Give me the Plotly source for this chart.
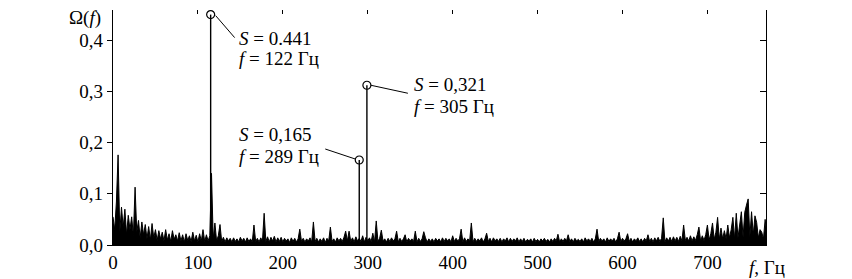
import plotly.graph_objects as go

# ---------------- data ----------------
# background spectrum, sampled every 2 Hz from 0 to 770 Hz (values in units of 0.001)
noise_step_hz = 2
noise_milli = [
    55, 30, 84, 176, 25, 74, 35, 70, 20, 58,      # 0-18
    30, 55, 18, 113, 25, 48, 14, 45, 20, 40,      # 20-38
    12, 36, 10, 42, 14, 30, 9, 28, 12, 25,        # 40-58
    8, 30, 10, 22, 7, 28, 11, 20, 8, 24,          # 60-78
    8, 20, 6, 22, 9, 18, 7, 25, 8, 19,            # 80-98
    6, 22, 8, 30, 7, 20, 8, 18, 140, 12,          # 100-118
    43, 8, 18, 40, 7, 15, 6, 14, 8, 13,           # 120-138
    6, 14, 7, 12, 6, 15, 8, 13, 6, 14,            # 140-158
    7, 12, 6, 39, 7, 13, 6, 14, 8, 62,            # 160-178
    7, 16, 6, 15, 8, 17, 6, 14, 7, 15,            # 180-198
    6, 13, 8, 12, 5, 14, 7, 13, 6, 12,            # 200-218
    31, 7, 13, 6, 12, 8, 14, 6, 45, 7,            # 220-238
    13, 6, 12, 7, 14, 5, 13, 8, 35, 7,            # 240-258
    12, 6, 14, 8, 13, 7, 15, 27, 8, 27,           # 260-278
    7, 14, 6, 16, 8, 13, 7, 18, 6, 15,            # 280-298
    8, 14, 7, 23, 6, 47, 7, 13, 29, 8,            # 300-318
    12, 6, 13, 7, 14, 8, 12, 27, 6, 13,           # 320-338
    7, 12, 20, 6, 13, 8, 12, 7, 27, 6,            # 340-358
    13, 7, 12, 26, 14, 6, 12, 7, 12, 6,           # 360-378
    13, 8, 12, 6, 14, 7, 13, 8, 12, 6,            # 380-398
    18, 7, 13, 8, 12, 31, 6, 14, 7, 12,           # 400-418
    8, 43, 6, 13, 7, 12, 8, 14, 6, 12,            # 420-438
    23, 7, 13, 6, 14, 8, 12, 7, 13, 6,            # 440-458
    12, 8, 14, 6, 13, 7, 12, 8, 14, 6,            # 460-478
    12, 7, 13, 6, 11, 8, 12, 6, 13, 7,            # 480-498
    11, 6, 12, 8, 13, 7, 11, 6, 12, 7,            # 500-518
    13, 8, 21, 6, 12, 7, 13, 8, 20, 7,            # 520-538
    12, 6, 13, 8, 11, 7, 12, 6, 14, 8,            # 540-558
    12, 7, 13, 6, 12, 31, 7, 13, 8, 12,           # 560-578
    6, 14, 7, 12, 8, 13, 6, 12, 25, 7,            # 580-598
    13, 8, 12, 22, 7, 13, 6, 12, 8, 14,           # 600-618
    7, 12, 6, 13, 8, 20, 7, 13, 6, 14,            # 620-638
    8, 15, 7, 13, 53, 6, 14, 8, 15, 7,            # 640-658
    16, 8, 15, 7, 17, 8, 39, 9, 15, 8,            # 660-678
    18, 8, 16, 9, 20, 35, 8, 18, 9, 20,           # 680-698
    39, 10, 22, 43, 11, 25, 54, 11, 33, 12,       # 700-718
    28, 12, 39, 14, 30, 54, 12, 62, 14, 35,       # 720-738
    65, 15, 64, 78, 90, 16, 65, 20, 57, 44,       # 740-758
    14, 30, 25, 12, 50, 20,                       # 760-770
]
noise_freq = [i * noise_step_hz for i in range(len(noise_milli))]
noise_vals = [v / 1000 for v in noise_milli]

# marked peaks (frequency, amplitude as drawn) and their labels
peak_f = [115, 299, 290]
peak_S = [0.450, 0.312, 0.166]
peak_S_text = ["0.441", "0,321", "0,165"]
peak_f_text = ["122", "305", "289"]

x_ticks = [0, 100, 200, 300, 400, 500, 600, 700]
y_ticks = [0.0, 0.1, 0.2, 0.3, 0.4]
x_range = [0, 769]
y_range = [0, 0.459]

FONT = "Liberation Serif"

# ---------------- figure ----------------
fig = go.Figure()

fig.add_trace(go.Scatter(
    x=noise_freq, y=noise_vals, mode="lines", fill="tozeroy", fillcolor="black",
    line=dict(color="black", width=1), hoverinfo="skip", showlegend=False))

stem_x, stem_y = [], []
for f, s in zip(peak_f, peak_S):
    stem_x += [f, f, None]
    stem_y += [0, s, None]
fig.add_trace(go.Scatter(
    x=stem_x, y=stem_y, mode="lines",
    line=dict(color="black", width=1.4), showlegend=False))

fig.add_trace(go.Scatter(
    x=peak_f, y=peak_S, mode="markers",
    marker=dict(symbol="circle-open", size=8, color="black", line=dict(width=1.2)),
    showlegend=False))

# label layout per peak: (leader start dx,dy, leader end dx,dy, text dx, S-line dy, f-line dy) in px (y up)
label_layout = [
    (5, -1, 24, -23, 26, -24, -44),
    (4, 0, 41, -8, 45, 1, -21),
    (-4, 1, -34, 11, -122, 26, 4),
]
for f, s, st, ft, lay in zip(peak_f, peak_S, peak_S_text, peak_f_text, label_layout):
    x0, y0, x1, y1, tx, sy, fy = lay
    fig.add_shape(type="line", xref="x", yref="y",
                  xsizemode="pixel", ysizemode="pixel", xanchor=f, yanchor=s,
                  x0=x0, y0=y0, x1=x1, y1=y1,
                  line=dict(color="black", width=1))
    fig.add_annotation(x=f, y=s, xref="x", yref="y", showarrow=False,
                       xanchor="left", yanchor="middle", xshift=tx, yshift=sy,
                       text=f"<i>S</i> = {st}", font=dict(family=FONT, size=19, color="black"))
    fig.add_annotation(x=f, y=s, xref="x", yref="y", showarrow=False,
                       xanchor="left", yanchor="middle", xshift=tx, yshift=fy,
                       text=f"<i>f</i> = {ft} Гц", font=dict(family=FONT, size=19, color="black"))

# axis titles
fig.add_annotation(x=-0.015, y=0.968, xref="paper", yref="paper", showarrow=False,
                   xanchor="right", yanchor="middle", text="Ω(<i>f</i>)",
                   font=dict(family=FONT, size=19, color="black"))
fig.add_annotation(x=0.971, y=-0.094, xref="paper", yref="paper", showarrow=False,
                   xanchor="left", yanchor="middle", text="<i>f</i>, Гц",
                   font=dict(family=FONT, size=19, color="black"))

# the page adds an 8 px body margin, so the figure is sized to fit inside the window
fig.update_layout(
    width=844, height=271,
    margin=dict(l=105, r=86, t=2, b=34),
    paper_bgcolor="white", plot_bgcolor="white",
    separators=", ",
    font=dict(family=FONT, size=19, color="black"),
    showlegend=False,
    xaxis=dict(range=x_range, tickvals=x_ticks, ticks="", showgrid=False, zeroline=False,
               showline=True, linecolor="black", linewidth=1, ticklabelstandoff=0,
               automargin=False),
    xaxis2=dict(range=x_range, overlaying="x", side="top", tickvals=x_ticks,
                ticks="inside", ticklen=4, tickcolor="black", showticklabels=False,
                showline=False, showgrid=False, zeroline=False, automargin=False),
    yaxis=dict(range=y_range, tickvals=y_ticks, tickformat=".1f", ticks="outside", ticklen=5,
               tickcolor="black", showgrid=False, zeroline=False,
               showline=True, linecolor="black", linewidth=1.3, automargin=False),
    yaxis2=dict(range=y_range, overlaying="y", side="right", tickvals=y_ticks,
                ticks="inside", ticklen=6, tickcolor="black", showticklabels=False,
                showline=True, linecolor="black", linewidth=1.3, showgrid=False,
                zeroline=False, automargin=False),
)
# invisible trace to activate the secondary axes
fig.add_trace(go.Scatter(x=[x_range[0]], y=[y_range[0]], xaxis="x2", yaxis="y2",
                         mode="markers", marker=dict(opacity=0), hoverinfo="skip",
                         showlegend=False))

fig.write_html("out.html")
